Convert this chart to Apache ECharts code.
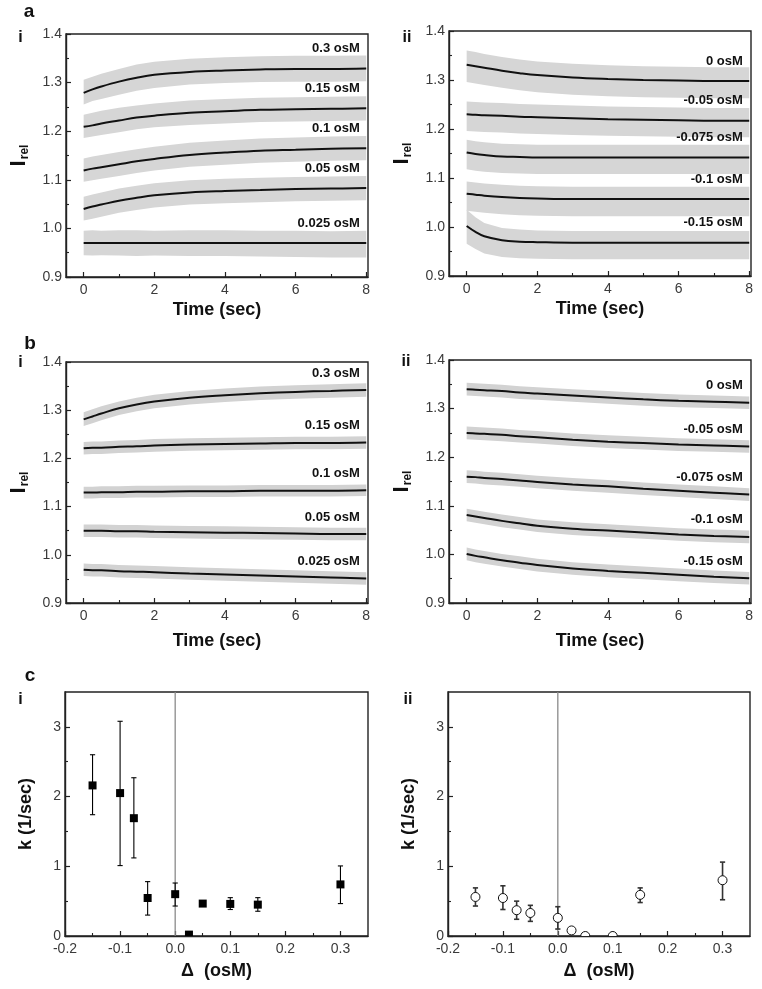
<!DOCTYPE html>
<html><head><meta charset="utf-8">
<script src="https://cdn.jsdelivr.net/npm/echarts@6/dist/echarts.min.js"></script>
<style>html,body{margin:0;padding:0;background:#fff}#c{width:762px;height:989px}</style>
</head><body><div id="c"></div>
<script>
const FONT = 'Liberation Sans, Arial, Helvetica, sans-serif';

// ---------- shared time samples (sec) ----------
const timePts = [0, 0.25, 0.5, 1, 1.5, 2, 3, 4, 5, 6, 7, 8];

// ---------- panel a-i ----------
const aI_labels = ['0.3 osM', '0.15 osM', '0.1 osM', '0.05 osM', '0.025 osM'];
const aI_fit = [
  [1.279,1.286,1.292,1.302,1.310,1.316,1.322,1.325,1.327,1.328,1.328,1.329],
  [1.209,1.212,1.216,1.222,1.228,1.232,1.238,1.241,1.244,1.245,1.246,1.247],
  [1.119,1.123,1.126,1.132,1.138,1.143,1.151,1.156,1.160,1.162,1.164,1.165],
  [1.040,1.045,1.049,1.057,1.063,1.068,1.074,1.077,1.079,1.081,1.082,1.083],
  [0.970,0.970,0.970,0.970,0.970,0.970,0.970,0.970,0.970,0.970,0.970,0.970]
];
const aI_lo = [
  [1.255,1.262,1.266,1.275,1.283,1.289,1.296,1.299,1.301,1.302,1.302,1.303],
  [1.186,1.189,1.192,1.198,1.204,1.208,1.213,1.216,1.219,1.220,1.221,1.222],
  [1.096,1.099,1.102,1.108,1.114,1.119,1.127,1.131,1.135,1.137,1.139,1.140],
  [1.016,1.020,1.024,1.032,1.038,1.043,1.049,1.052,1.054,1.056,1.057,1.058],
  [0.945,0.944,0.945,0.944,0.943,0.944,0.943,0.943,0.942,0.941,0.940,0.940]
];
const aI_hi = [
  [1.306,1.312,1.318,1.328,1.337,1.343,1.349,1.352,1.354,1.355,1.355,1.356],
  [1.234,1.238,1.242,1.248,1.253,1.257,1.263,1.266,1.269,1.270,1.271,1.272],
  [1.144,1.148,1.151,1.157,1.163,1.168,1.176,1.181,1.185,1.187,1.189,1.190],
  [1.065,1.070,1.074,1.082,1.088,1.093,1.099,1.102,1.104,1.106,1.107,1.108],
  [0.995,0.996,0.995,0.996,0.996,0.995,0.996,0.996,0.995,0.995,0.994,0.995]
];

// ---------- panel a-ii ----------
const aII_labels = ['0 osM', '-0.05 osM', '-0.075 osM', '-0.1 osM', '-0.15 osM'];
const aII_fit = [
  [1.331,1.328,1.325,1.319,1.314,1.310,1.305,1.302,1.300,1.299,1.298,1.298],
  [1.230,1.229,1.228,1.227,1.225,1.224,1.222,1.220,1.219,1.218,1.217,1.217],
  [1.152,1.149,1.147,1.144,1.143,1.142,1.142,1.142,1.142,1.142,1.142,1.142],
  [1.068,1.066,1.064,1.061,1.059,1.058,1.057,1.057,1.057,1.057,1.057,1.057],
  [1.002,0.990,0.981,0.973,0.970,0.969,0.968,0.968,0.968,0.968,0.968,0.968]
];
const aII_lo = [
  [1.296,1.293,1.290,1.284,1.279,1.275,1.270,1.267,1.265,1.264,1.263,1.263],
  [1.196,1.195,1.194,1.193,1.191,1.190,1.188,1.186,1.185,1.184,1.183,1.183],
  [1.118,1.115,1.113,1.110,1.109,1.108,1.108,1.108,1.108,1.108,1.108,1.108],
  [1.033,1.031,1.029,1.026,1.024,1.023,1.022,1.022,1.022,1.022,1.022,1.022],
  [0.966,0.955,0.946,0.939,0.936,0.935,0.934,0.934,0.934,0.934,0.934,0.934]
];
const aII_hi = [
  [1.360,1.357,1.353,1.347,1.342,1.338,1.333,1.330,1.328,1.327,1.326,1.326],
  [1.256,1.255,1.254,1.253,1.251,1.250,1.248,1.246,1.245,1.244,1.243,1.243],
  [1.178,1.175,1.173,1.170,1.169,1.168,1.168,1.168,1.168,1.168,1.168,1.168],
  [1.093,1.091,1.089,1.086,1.084,1.083,1.082,1.082,1.082,1.082,1.082,1.082],
  [1.035,1.020,1.008,0.998,0.995,0.993,0.992,0.992,0.992,0.992,0.992,0.992]
];

// ---------- panel b-i ----------
const bI_labels = ['0.3 osM', '0.15 osM', '0.1 osM', '0.05 osM', '0.025 osM'];
const bI_fit = [
  [1.281,1.287,1.293,1.304,1.312,1.318,1.326,1.331,1.335,1.338,1.340,1.342],
  [1.221,1.222,1.222,1.224,1.225,1.227,1.229,1.230,1.231,1.232,1.232,1.233],
  [1.129,1.129,1.130,1.130,1.131,1.131,1.132,1.132,1.133,1.133,1.133,1.134],
  [1.050,1.050,1.050,1.049,1.049,1.048,1.047,1.046,1.045,1.044,1.043,1.043],
  [0.969,0.968,0.968,0.966,0.965,0.964,0.961,0.959,0.957,0.955,0.953,0.951]
];
const bI_lo = [
  [1.267,1.273,1.279,1.290,1.298,1.304,1.312,1.317,1.321,1.324,1.326,1.328],
  [1.208,1.209,1.209,1.211,1.212,1.214,1.216,1.217,1.218,1.219,1.219,1.220],
  [1.117,1.117,1.118,1.118,1.119,1.119,1.120,1.120,1.121,1.121,1.121,1.122],
  [1.037,1.037,1.037,1.036,1.036,1.035,1.034,1.033,1.032,1.031,1.030,1.030],
  [0.956,0.955,0.955,0.953,0.952,0.951,0.948,0.946,0.944,0.942,0.940,0.938]
];
const bI_hi = [
  [1.296,1.302,1.308,1.318,1.326,1.332,1.340,1.345,1.349,1.352,1.354,1.356],
  [1.234,1.235,1.235,1.237,1.238,1.240,1.242,1.243,1.244,1.245,1.245,1.246],
  [1.141,1.141,1.142,1.142,1.143,1.143,1.144,1.144,1.145,1.145,1.145,1.146],
  [1.063,1.063,1.063,1.062,1.062,1.061,1.060,1.059,1.058,1.057,1.056,1.056],
  [0.982,0.981,0.981,0.979,0.978,0.977,0.974,0.972,0.970,0.968,0.966,0.964]
];

// ---------- panel b-ii ----------
const bII_labels = ['0 osM', '-0.05 osM', '-0.075 osM', '-0.1 osM', '-0.15 osM'];
const bII_fit = [
  [1.340,1.339,1.338,1.336,1.333,1.331,1.327,1.323,1.319,1.316,1.314,1.312],
  [1.250,1.249,1.248,1.246,1.243,1.241,1.236,1.232,1.229,1.226,1.224,1.222],
  [1.160,1.159,1.157,1.155,1.152,1.149,1.144,1.140,1.135,1.131,1.127,1.123],
  [1.081,1.078,1.075,1.069,1.064,1.059,1.053,1.049,1.045,1.041,1.038,1.036],
  [1.001,0.997,0.994,0.988,0.983,0.978,0.971,0.966,0.962,0.958,0.954,0.951]
];
const bII_lo = [
  [1.327,1.326,1.325,1.323,1.320,1.318,1.314,1.310,1.306,1.303,1.301,1.299],
  [1.237,1.236,1.235,1.233,1.230,1.228,1.223,1.219,1.216,1.213,1.211,1.209],
  [1.147,1.146,1.144,1.142,1.139,1.136,1.131,1.127,1.122,1.118,1.114,1.110],
  [1.068,1.065,1.062,1.056,1.051,1.046,1.040,1.036,1.032,1.028,1.025,1.023],
  [0.988,0.984,0.981,0.975,0.970,0.965,0.958,0.953,0.949,0.945,0.941,0.938]
];
const bII_hi = [
  [1.353,1.352,1.351,1.349,1.346,1.344,1.340,1.336,1.332,1.329,1.327,1.325],
  [1.263,1.262,1.261,1.259,1.256,1.254,1.249,1.245,1.242,1.239,1.237,1.235],
  [1.173,1.172,1.170,1.168,1.165,1.162,1.157,1.153,1.148,1.144,1.140,1.136],
  [1.094,1.091,1.088,1.082,1.077,1.072,1.066,1.062,1.058,1.054,1.051,1.049],
  [1.014,1.010,1.007,1.001,0.996,0.991,0.984,0.979,0.975,0.971,0.967,0.964]
];

// ---------- panel c-i (filled squares) ----------
const cI_delta = [-0.15, -0.1, -0.075, -0.05, 0, 0.025, 0.05, 0.1, 0.15, 0.3];
const cI_k     = [2.16, 2.05, 1.69, 0.545, 0.60, 0.02, 0.465, 0.46, 0.45, 0.74];
const cI_kLo   = [1.74, 1.01, 1.12, 0.30, 0.43, 0.02, 0.465, 0.38, 0.355, 0.465];
const cI_kHi   = [2.60, 3.08, 2.27, 0.78, 0.76, 0.02, 0.465, 0.55, 0.55, 1.005];

// ---------- panel c-ii (open circles) ----------
const cII_delta = [-0.15, -0.1, -0.075, -0.05, 0, 0.025, 0.05, 0.1, 0.15, 0.3];
const cII_k     = [0.56, 0.545, 0.37, 0.33, 0.26, 0.08, 0.0, 0.0, 0.59, 0.80];
const cII_kLo   = [0.43, 0.38, 0.24, 0.21, 0.10, 0.05, 0.0, 0.0, 0.48, 0.52];
const cII_kHi   = [0.69, 0.72, 0.50, 0.44, 0.42, 0.11, 0.03, 0.03, 0.69, 1.06];

// ---------- tick values ----------
const timeTicks = [0, 2, 4, 6, 8];
const timeMinor = [1, 3, 5, 7];
const iTicks = [0.9, 1.0, 1.1, 1.2, 1.3, 1.4];
const iMinor = [0.95, 1.05, 1.15, 1.25, 1.35];
const dTicks = [-0.2, -0.1, 0, 0.1, 0.2, 0.3];
const dMinor = [-0.15, -0.05, 0.05, 0.15, 0.25];
const kTicks = [0, 1, 2, 3];
const kMinor = [0.5, 1.5, 2.5];

// ---------- layout ----------
const grids = [
  {left: 66,  top: 34,  width: 302, height: 243},
  {left: 449, top: 31,  width: 302, height: 245},
  {left: 66,  top: 362, width: 302, height: 241},
  {left: 449, top: 360, width: 302, height: 243},
  {left: 65,  top: 692, width: 303, height: 244},
  {left: 448, top: 692, width: 302, height: 244}
].map(g => Object.assign({show: true, borderColor: '#222', borderWidth: 1.4, backgroundColor: 'transparent'}, g));

const AX = '#222';
const xAxes = [], yAxes = [], series = [];

function addAxes(g, xr, yr, xMaj, xMin, yMaj, yMin, xFmt, yFmt, xName, yName, xGap, yGap, yNameRich) {
  xAxes.push({
    type: 'value', gridIndex: g, position: 'bottom', min: xr[0], max: xr[1],
    axisLine: {show: true, onZero: false, lineStyle: {color: AX, width: 1.4}},
    axisTick: {show: true, inside: true, length: 5, customValues: xMaj, lineStyle: {color: AX, width: 1.2}},
    axisLabel: {show: true, customValues: xMaj, formatter: xFmt, color: '#3a3a3a', fontSize: 14, fontFamily: FONT, margin: 6},
    splitLine: {show: false},
    name: xName, nameLocation: 'middle', nameGap: xGap,
    nameTextStyle: {fontSize: 18, fontWeight: 'bold', color: '#111', fontFamily: FONT}
  });
  xAxes.push({
    type: 'value', gridIndex: g, position: 'bottom', min: xr[0], max: xr[1],
    axisLine: {show: false, onZero: false},
    axisTick: {show: true, inside: true, length: 3, customValues: xMin, lineStyle: {color: AX, width: 1.1}},
    axisLabel: {show: false}, splitLine: {show: false}
  });
  yAxes.push({
    type: 'value', gridIndex: g, position: 'left', min: yr[0], max: yr[1],
    axisLine: {show: true, onZero: false, lineStyle: {color: AX, width: 1.4}},
    axisTick: {show: true, inside: true, length: 5, customValues: yMaj, lineStyle: {color: AX, width: 1.2}},
    axisLabel: {show: true, customValues: yMaj, formatter: yFmt, color: '#3a3a3a', fontSize: 14, fontFamily: FONT, margin: 4},
    splitLine: {show: false},
    name: yName, nameLocation: 'middle', nameRotate: 90, nameGap: yGap,
    nameTextStyle: yNameRich
  });
  yAxes.push({
    type: 'value', gridIndex: g, position: 'left', min: yr[0], max: yr[1],
    axisLine: {show: false, onZero: false},
    axisTick: {show: true, inside: true, length: 3, customValues: yMin, lineStyle: {color: AX, width: 1.1}},
    axisLabel: {show: false}, splitLine: {show: false}
  });
}

const iNameStyle = {
  rich: {
    a: {fontSize: 22, fontWeight: 'bold', color: '#111', fontFamily: FONT},
    b: {fontSize: 12, fontWeight: 'bold', color: '#111', fontFamily: FONT, padding: [13, 0, 0, 1]}
  }
};
const kNameStyle = {fontSize: 18, fontWeight: 'bold', color: '#111', fontFamily: FONT};
const fmtInt = v => String(Math.round(v));
const fmt1 = v => (Math.abs(v) < 1e-9 ? 0 : v).toFixed(1);

const tRange = [-0.5, 8.05], iRange = [0.9, 1.4];
const dRange = [-0.2, 0.35], kRange = [0, 3.5];

addAxes(0, tRange, iRange, timeTicks, timeMinor, iTicks, iMinor, fmtInt, fmt1, 'Time (sec)', '{a|I}{b|rel}', 24, 35, iNameStyle);
addAxes(1, tRange, iRange, timeTicks, timeMinor, iTicks, iMinor, fmtInt, fmt1, 'Time (sec)', '{a|I}{b|rel}', 24, 35, iNameStyle);
addAxes(2, tRange, iRange, timeTicks, timeMinor, iTicks, iMinor, fmtInt, fmt1, 'Time (sec)', '{a|I}{b|rel}', 29, 35, iNameStyle);
addAxes(3, tRange, iRange, timeTicks, timeMinor, iTicks, iMinor, fmtInt, fmt1, 'Time (sec)', '{a|I}{b|rel}', 29, 35, iNameStyle);
addAxes(4, dRange, kRange, dTicks, dMinor, kTicks, kMinor, fmt1, fmtInt, 'Δ  (osM)', 'k (1/sec)', 26, 30, kNameStyle);
addAxes(5, dRange, kRange, dTicks, dMinor, kTicks, kMinor, fmt1, fmtInt, 'Δ  (osM)', 'k (1/sec)', 26, 30, kNameStyle);

function addTraces(g, labels, fit, lo, hi, labelDy, bandColor) {
  labels.forEach((lab, j) => {
    series.push({
      type: 'custom', xAxisIndex: 2 * g, yAxisIndex: 2 * g, silent: true, z: 1, clip: true,
      data: [[timePts[0], fit[j][0]]],
      renderItem: (params, api) => {
        const pts = [];
        for (let i = 0; i < timePts.length; i++) pts.push(api.coord([timePts[i], lo[j][i]]));
        for (let i = timePts.length - 1; i >= 0; i--) pts.push(api.coord([timePts[i], hi[j][i]]));
        return {type: 'polygon', shape: {points: pts}, style: {fill: bandColor}};
      }
    });
    const n = timePts.length;
    series.push({
      type: 'line', name: lab, xAxisIndex: 2 * g, yAxisIndex: 2 * g, z: 3,
      data: timePts.map((t, i) => [t, fit[j][i]]),
      smooth: 0.4, showSymbol: false, symbol: 'none', silent: true,
      lineStyle: {color: '#111', width: 2},
      markPoint: {
        silent: true, symbol: 'circle', symbolSize: 1, itemStyle: {color: 'rgba(0,0,0,0)'},
        data: [{coord: [timePts[n - 1], fit[j][n - 1]]}],
        label: {show: true, position: 'left', distance: 6, offset: [0, -labelDy], formatter: lab,
                fontWeight: 'bold', fontSize: 13, color: '#111', fontFamily: FONT}
      }
    });
  });
}

addTraces(0, aI_labels, aI_fit, aI_lo, aI_hi, 20, '#d6d6d6');
addTraces(1, aII_labels, aII_fit, aII_lo, aII_hi, 20, '#d6d6d6');
addTraces(2, bI_labels, bI_fit, bI_lo, bI_hi, 17, '#d2d2d2');
addTraces(3, bII_labels, bII_fit, bII_lo, bII_hi, 17, '#d2d2d2');

function addRates(g, xs, ks, los, his, filled) {
  series.push({
    type: 'custom', xAxisIndex: 2 * g, yAxisIndex: 2 * g, silent: true, z: 1,
    data: [[0, kRange[0]]],
    renderItem: (params, api) => {
      const p0 = api.coord([0, kRange[0]]), p1 = api.coord([0, kRange[1]]);
      return {type: 'line', shape: {x1: p0[0], y1: p0[1], x2: p1[0], y2: p1[1]},
              style: {stroke: '#8a8a8a', lineWidth: 1.3}};
    }
  });
  series.push({
    type: 'custom', xAxisIndex: 2 * g, yAxisIndex: 2 * g, silent: true, z: 3,
    data: xs.map((x, i) => [x, ks[i], los[i], his[i]]),
    renderItem: (params, api) => {
      const x = api.value(0), k = api.value(1), lo = api.value(2), hi = api.value(3);
      const p = api.coord([x, k]), pl = api.coord([x, lo]), ph = api.coord([x, hi]);
      const cs = params.coordSys;
      const stroke = filled ? '#000' : '#333';
      const lw = filled ? 1.1 : 1.6;
      const cap = 2.6;
      const ch = [];
      if (hi > lo) {
        ch.push({type: 'line', shape: {x1: p[0], y1: pl[1], x2: p[0], y2: ph[1]}, style: {stroke, lineWidth: lw}});
        ch.push({type: 'line', shape: {x1: p[0] - cap, y1: pl[1], x2: p[0] + cap, y2: pl[1]}, style: {stroke, lineWidth: lw}});
        ch.push({type: 'line', shape: {x1: p[0] - cap, y1: ph[1], x2: p[0] + cap, y2: ph[1]}, style: {stroke, lineWidth: lw}});
      }
      if (filled) {
        ch.push({type: 'rect', shape: {x: p[0] - 4, y: p[1] - 4, width: 8, height: 8}, style: {fill: '#000'}});
      } else {
        ch.push({type: 'circle', shape: {cx: p[0], cy: p[1], r: 4.5}, style: {fill: '#fff', stroke: '#111', lineWidth: 1}});
      }
      return {type: 'group', children: ch,
              clipPath: {type: 'rect', shape: {x: cs.x, y: cs.y, width: cs.width, height: cs.height}}};
    }
  });
}
addRates(4, cI_delta, cI_k, cI_kLo, cI_kHi, true);
addRates(5, cII_delta, cII_k, cII_kLo, cII_kHi, false);

function txt(s, x, y, size) {
  return {type: 'text', x: x, y: y, silent: true,
          style: {text: s, font: 'bold ' + size + 'px ' + FONT, fill: '#111', textAlign: 'center', textVerticalAlign: 'middle'}};
}
const graphics = [
  txt('a', 29, 12, 19), txt('b', 30, 344, 19), txt('c', 30, 676, 19),
  txt('i', 20.5, 37.4, 16), txt('ii', 407, 37.4, 16),
  txt('i', 20.5, 362.4, 16), txt('ii', 406, 361.5, 16),
  txt('i', 20.5, 699.4, 16), txt('ii', 408, 699.4, 16)
];

const chart = echarts.init(document.getElementById('c'), null, {renderer: 'canvas'});
chart.setOption({
  animation: false,
  backgroundColor: '#fff',
  grid: grids,
  xAxis: xAxes,
  yAxis: yAxes,
  series: series,
  graphic: graphics
});
</script>
</body></html>
